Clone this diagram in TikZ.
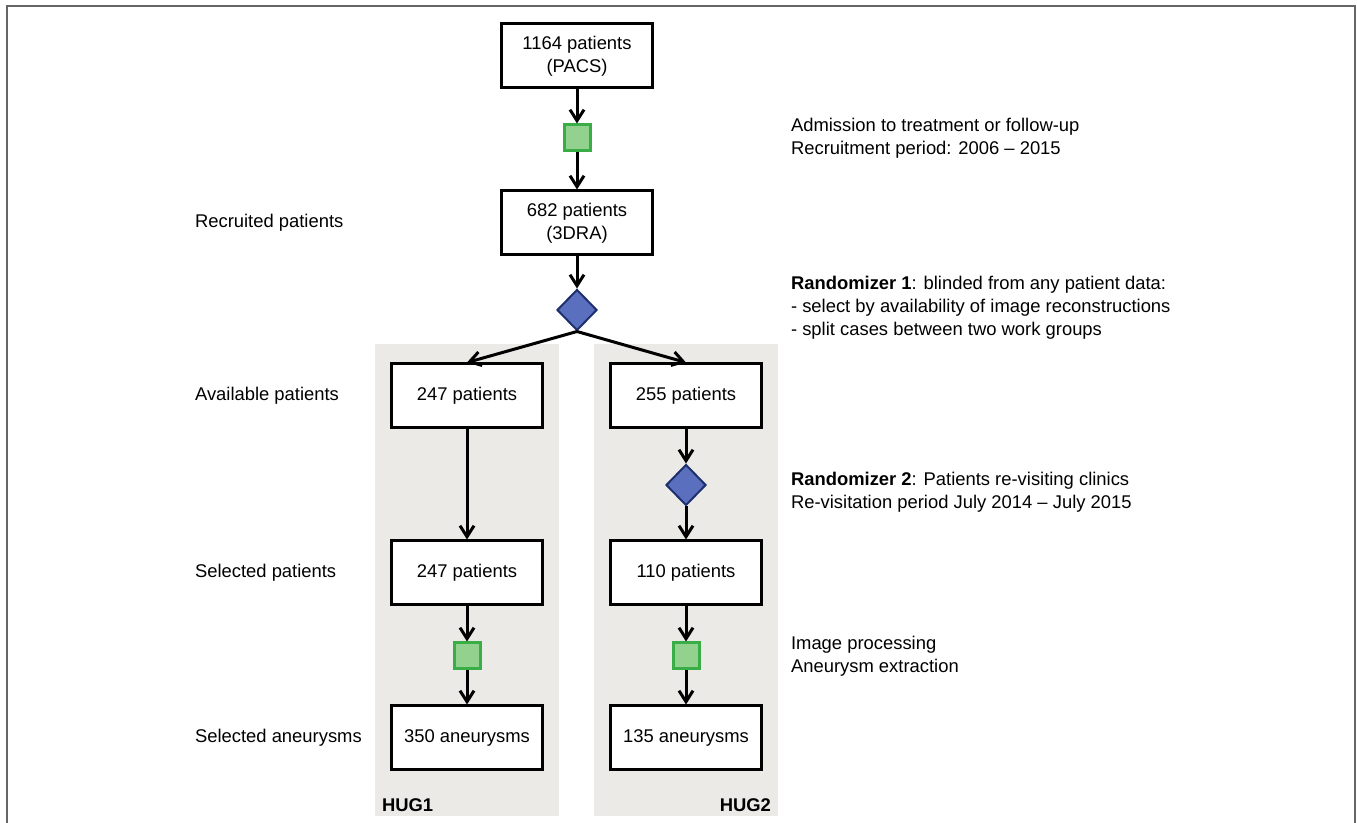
\documentclass[tikz,border=0pt]{standalone}
\usepackage{fontspec}
\setmainfont{Liberation Sans}
\usetikzlibrary{positioning,shapes,arrows.meta}
\definecolor{panelgray}{HTML}{ECEAE7}
\definecolor{stepgreen}{HTML}{92D18E}
\definecolor{stepgreenline}{HTML}{3AAE46}
\definecolor{randblue}{HTML}{5A70BE}
\definecolor{randblueline}{HTML}{1E2F6E}
\definecolor{framegray}{HTML}{666666}
\newcommand{\txt}{\fontsize{9.2}{11.5}\selectfont}

\begin{document}
\begin{tikzpicture}[x = .5pt, y = -.5pt, font = \txt,
  cbox/.style = {draw, line width = 1.5pt, fill = white, minimum width = 75.5pt, minimum height = 32pt, align = center, inner sep = 0pt},
  procsq/.style = {draw = stepgreenline, fill = stepgreen, line width = 1.5pt, minimum size = 13pt, inner sep = 0pt},
  randdia/.style = {diamond, draw = randblueline, fill = randblue, line width = 1pt, minimum width = 20pt, minimum height = 20.5pt, inner sep = 0pt},
  flow/.style = {-{Straight Barb[length = 5.5pt, width = 7pt]}, line width = 1.5pt}]
\useasboundingbox (0,0) rectangle (1357,823);
\draw[framegray, line width = 1pt] (7,823) -- (7,6) -- (1355,6) -- (1355,823);
% work group panels
\fill[panelgray] (375,344) rectangle (559,816);
\fill[panelgray] (594,344) rectangle (778,816);
\node[anchor = west, font = \txt\bfseries] (hug_one) at (375,805) {HUG1};
\node[anchor = east, font = \txt\bfseries] (hug_two) at (778,805) {HUG2};
% common part
\node[cbox] (pacs) at (577,56) {1164 patients\\(PACS)};
\node[procsq] (admit) at (577,138) {};
\node[cbox] (dra) at (577,223) {682 patients\\(3DRA)};
\node[randdia] (rand_one) at (577,310) {};
% HUG1
\node[cbox] (avail_one) at (467,396) {247 patients};
\node[cbox] (sel_one) at (467,573) {247 patients};
\node[procsq] (proc_one) at (467,656) {};
\node[cbox] (aneu_one) at (467,738) {350 aneurysms};
% HUG2
\node[cbox] (avail_two) at (686,396) {255 patients};
\node[randdia] (rand_two) at (686,485) {};
\node[cbox] (sel_two) at (686,573) {110 patients};
\node[procsq] (proc_two) at (686,656) {};
\node[cbox] (aneu_two) at (686,738) {135 aneurysms};
\draw[flow] (pacs) -- (admit);
\draw[flow] (admit) -- (dra);
\draw[flow] (dra) -- (rand_one);
\draw[flow] (rand_one.south) -- (avail_one.north);
\draw[flow] (rand_one.south) -- (avail_two.north);
\draw[flow] (avail_one) -- (sel_one);
\draw[flow] (sel_one) -- (proc_one);
\draw[flow] (proc_one) -- (aneu_one);
\draw[flow] (avail_two) -- (rand_two);
\draw[flow] (rand_two) -- (sel_two);
\draw[flow] (sel_two) -- (proc_two);
\draw[flow] (proc_two) -- (aneu_two);
% row labels
\node[anchor = west] (lab_recr) at (188,223) {Recruited patients};
\node[anchor = west] (lab_avail) at (188,396) {Available patients};
\node[anchor = west] (lab_sel) at (188,573) {Selected patients};
\node[anchor = west] (lab_aneu) at (188,738) {Selected aneurysms};
% notes on the right
\node[anchor = west, align = left] (note_admit) at (784,138.5) {Admission to treatment or follow-up\\Recruitment period: 2006 \textendash{} 2015};
\node[anchor = west, align = left] (note_rand_one) at (784,308) {\textbf{Randomizer 1}: blinded from any patient data:\\- select by availability of image reconstructions\\- split cases between two work groups};
\node[anchor = west, align = left] (note_rand_two) at (784,492.5) {\textbf{Randomizer 2}: Patients re-visiting clinics\\Re-visitation period July 2014 \textendash{} July 2015};
\node[anchor = west, align = left] (note_proc) at (784,656) {Image processing\\Aneurysm extraction};
\end{tikzpicture}
\end{document}
